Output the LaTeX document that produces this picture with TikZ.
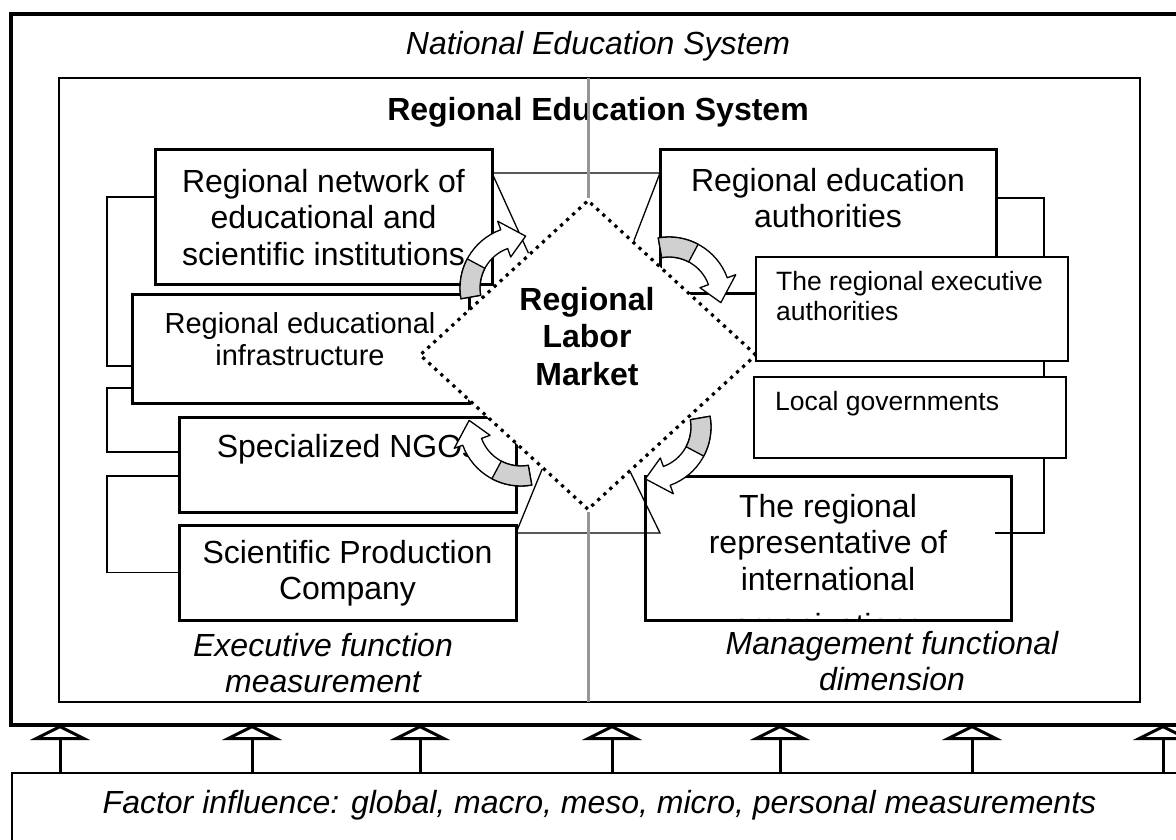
\documentclass[tikz,border=0pt]{standalone}
\usepackage{fontspec}
\setmainfont{Liberation Sans}
\usetikzlibrary{shapes.geometric,arrows.meta,calc}

\definecolor{tailgrey}{RGB}{208,208,208}
\definecolor{dividergrey}{RGB}{150,150,150}

\tikzset{
  unitbox/.style={draw, line width=3pt, fill=white, inner sep=0pt, outer sep=0pt, anchor=north west},
  thinbox/.style={unitbox, line width=1.7pt},
  boxtext/.style={inner sep=0pt, align=center, font=\fontsize{32}{36.5}\selectfont},
  link/.style={line width=1.3pt},
  divider/.style={line width=3pt, dividergrey},
  uparrow/.style={line width=3pt, -{Triangle[open, length=15pt, width=60pt]}},
  market/.style={shape=diamond, draw, fill=white, line width=3.2pt, dash pattern=on 3.2pt off 5pt,
    inner sep=0pt, minimum width=337pt, minimum height=310pt},
  arrowline/.style={line width=1.3pt, line join=round},
  pics/turnarrow/.style 2 args={code={
    \draw[arrowline, fill=white] (#1:62) arc[start angle=#1, end angle=#2, radius=62]
      -- (#2:71) -- (#2+24:52) -- (#2:33) -- (#2:42)
      arc[start angle=#2, end angle=#1, radius=42] -- cycle;
    \draw[arrowline, fill=tailgrey] (#1:62) arc[start angle=#1, end angle=#1+38, radius=62]
      -- (#1+38:42) arc[start angle=#1+38, end angle=#1, radius=42] -- cycle;
  }}
}

\begin{document}
\begin{tikzpicture}[x=1pt, y=-1pt]
  \path[use as bounding box, fill=white] (0,0) rectangle (1176,840);

  % Draw the frames
  \node[unitbox, line width=3.5pt, minimum width=1200pt, minimum height=711pt] (nes) at (11,14) {};
  \node[unitbox, line width=2.5pt, minimum width=1081pt, minimum height=624pt] (res) at (59,78) {};
  \node[thinbox, minimum width=1200pt, minimum height=120pt] (fac) at (12,773) {};

  % Left column
  \node[unitbox, minimum width=337pt, minimum height=134pt] (net) at (155,150) {};
  \node[unitbox, minimum width=337pt, minimum height=109pt] (infra) at (132,294) {};
  \node[unitbox, minimum width=337pt, minimum height=95pt] (ngo) at (179,417) {};
  \node[unitbox, minimum width=337pt, minimum height=95pt] (spc) at (179,525) {};

  % Right column
  \node[unitbox, minimum width=336pt, minimum height=143pt] (rea) at (660,150) {};
  \node[unitbox, minimum width=366pt, minimum height=144pt] (intl) at (645,476) {};

  % Brackets
  \draw[link] ([yshift=20pt]net.west) -- ++(-48,0) |- ([yshift=-17.5pt]infra.west);
  \draw[link] ([yshift=-39.5pt]infra.west) -- ++(-25,0) |- ([yshift=12.5pt]ngo.west);
  \draw[link] ([yshift=-11.5pt]ngo.west) -- ++(-72,0) |- (spc.west);
  \draw[link] ([yshift=23.5pt]rea.east) -- ++(48,0) |- ([xshift=-16pt,yshift=15pt]intl.east);

  \node[thinbox, minimum width=312pt, minimum height=104pt] (exe) at (756,257) {};
  \node[thinbox, minimum width=312pt, minimum height=81pt] (lgov) at (754,377) {};

  % Labor market
  \node[market] (lm) at (588,355) {};
  \draw[link] ($(lm.north)!0.35!(lm.west)$) -- ([yshift=44pt]net.east)
    -- ([yshift=48.5pt]rea.west) -- ($(lm.north)!0.27!(lm.east)$);
  \draw[link] ($(lm.west)!0.73!(lm.south)$) -- ([yshift=39.5pt]spc.east)
    -- ([xshift=15pt,yshift=15pt]intl.west) -- ($(lm.south)!0.25!(lm.east)$);

  % Titles
  \node[inner sep=0pt, anchor=base, font=\fontsize{32}{36}\selectfont\itshape] (nestitle) at (598,55) {National Education System};
  \node[inner sep=0pt, anchor=base, font=\fontsize{32}{36}\selectfont\bfseries] (restitle) at (598,121) {Regional Education System};

  % Grey divider
  \draw[divider] (res.north -| lm.north) -- (lm.north);
  \draw[divider] (lm.south) -- (lm.south |- res.south);

  % Box texts
  \node[boxtext, anchor=north] (nettxt) at (323.5,169) {Regional network of\\educational and\\scientific institutions};
  \node[boxtext, anchor=north, font=\fontsize{29}{32}\selectfont] (infratxt) at (300,312) {Regional educational\\infrastructure};
  \node[boxtext, anchor=base] (ngotxt) at (347.5,457) {Specialized NGOs};
  \node[boxtext, anchor=north] (spctxt) at (347.5,540) {Scientific Production\\Company};
  \node[boxtext, anchor=north] (reatxt) at (828,168) {Regional education\\authorities};
  \node[boxtext, anchor=north west, align=left, font=\fontsize{26.5}{30}\selectfont] (exetxt) at (776,271) {The regional executive\\authorities};
  \node[boxtext, anchor=base west, font=\fontsize{26.5}{30}\selectfont] (lgovtxt) at (775,410) {Local governments};
  \node[boxtext, anchor=north] (intltxt) at (828,494) {The regional\\representative of\\international};
  \begin{scope}
    \clip (intl.north west) rectangle ([yshift=1.5pt]intl.south east);
    \node[boxtext, anchor=base] (intlcut) at (828,636) {organizations};
  \end{scope}
  \node[boxtext, anchor=north, font=\fontsize{32}{37.5}\selectfont\bfseries] (lmtxt) at (587,287) {Regional\\Labor\\Market};

  % Dimensions
  \node[boxtext, anchor=north, font=\fontsize{32}{36}\selectfont\itshape] (exedim) at (323,633) {Executive function\\measurement};
  \node[boxtext, anchor=north, font=\fontsize{32}{36}\selectfont\itshape] (mgmdim) at (892,631) {Management functional\\dimension};

  % Curved arrows round the market
  \pic at (522,288) {turnarrow={170}{250}};
  \pic at (669,299) {turnarrow={-100}{-20}};
  \pic at (521,424) {turnarrow={80}{160}};
  \pic at (649,427) {turnarrow={-10}{70}};

  % Factors
  \node[inner sep=0pt, anchor=base, font=\fontsize{32}{36}\selectfont\itshape] (factxt) at (599.5,813) {Factor influence: global, macro, meso, micro, personal measurements};
  \foreach \x in {60,252,420,612,780,972,1163}
    \draw[uparrow] (\x,0 |- fac.north) -- (\x,0 |- nes.south);
\end{tikzpicture}
\end{document}
